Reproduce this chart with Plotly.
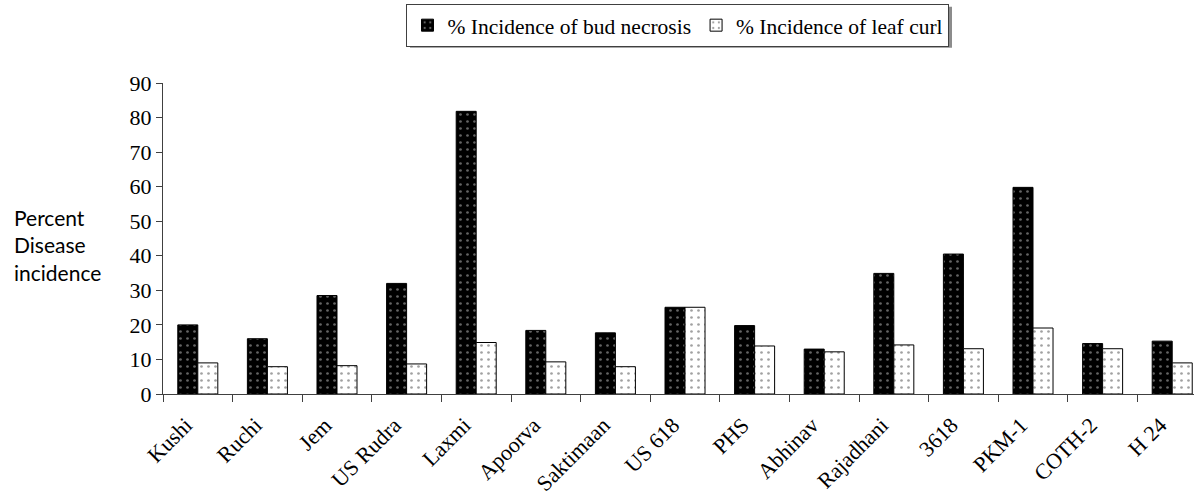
import plotly.graph_objects as go

varieties = ["Kushi", "Ruchi", "Jem", "US Rudra", "Laxmi", "Apoorva", "Saktimaan", "US 618",
             "PHS", "Abhinav", "Rajadhani", "3618", "PKM-1", "COTH-2", "H 24"]
bud_necrosis = [20.0, 16.0, 28.5, 32.0, 81.8, 18.4, 17.7, 25.1, 19.8, 13.0, 34.9, 40.5, 59.8, 14.6, 15.3]
leaf_curl = [9.0, 7.9, 8.2, 8.7, 14.9, 9.3, 7.9, 25.1, 13.9, 12.2, 14.2, 13.1, 19.1, 13.1, 9.0]
y_ticks = [0, 10, 20, 30, 40, 50, 60, 70, 80, 90]

SERIF = "Liberation Serif"
AXIS = "#404040"

fig = go.Figure()
fig.add_trace(go.Bar(
    x=varieties, y=bud_necrosis, name="% Incidence of bud necrosis",
    marker=dict(color="black", line=dict(color="black", width=1),
                pattern=dict(shape=".", bgcolor="black", fgcolor="#c8c8c8", size=7, solidity=0.12)),
))
fig.add_trace(go.Bar(
    x=varieties, y=leaf_curl, name="% Incidence of leaf curl",
    marker=dict(color="white", line=dict(color="black", width=1),
                pattern=dict(shape=".", bgcolor="white", fgcolor="#444444", size=7, solidity=0.12)),
))
# invisible carrier trace for the (slightly shifted) category label axis
fig.add_trace(go.Scatter(
    x=varieties, y=[0] * len(varieties), xaxis="x2", mode="markers",
    marker=dict(opacity=0), showlegend=False, hoverinfo="skip",
))

fig.update_layout(
    width=1194, height=497, autosize=False,
    margin=dict(l=163, r=0, t=83, b=103),
    paper_bgcolor="white", plot_bgcolor="white",
    barmode="group", bargap=0.425, bargroupgap=0,
    font=dict(family=SERIF, size=22, color="black"),
    showlegend=True,
    legend=dict(orientation="h", x=0.4995, xanchor="center", y=1.255, yanchor="top",
                bordercolor=AXIS, borderwidth=1, bgcolor="white",
                font=dict(family=SERIF, size=21.5, color="black"),
                itemwidth=30, tracegroupgap=0),
    xaxis=dict(
        type="category", range=[-0.5, 14.313], tickson="boundaries",
        showline=True, linecolor=AXIS, linewidth=1,
        ticks="outside", ticklen=7, tickcolor=AXIS,
        showticklabels=False, showgrid=False, zeroline=False,
    ),
    xaxis2=dict(
        type="category", overlaying="x", anchor="y", side="bottom",
        range=[-0.328, 14.485], showline=False, ticks="",
        tickangle=-45, ticklabelstandoff=13,
        tickfont=dict(family=SERIF, size=22, color="black"),
        showgrid=False, zeroline=False,
    ),
    yaxis=dict(
        range=[0, 90], tickmode="array", tickvals=y_ticks, ticktext=[str(v) for v in y_ticks],
        showline=True, linecolor=AXIS, linewidth=1,
        ticks="outside", ticklen=6, tickcolor=AXIS,
        tickfont=dict(family=SERIF, size=22, color="black"),
        showgrid=False, zeroline=False,
    ),
)

# legend drop shadow (right/bottom edge), placed just behind the legend box
def px_x(p):
    return (p - 163) / 1031

def px_y(p):
    return (394.3 - p) / 311

fig.add_shape(type="rect", xref="paper", yref="paper", layer="below",
              x0=px_x(410), x1=px_x(952), y0=px_y(48), y1=px_y(7),
              fillcolor="#8c8c8c", line=dict(width=0))

fig.add_annotation(
    text="Percent<br>Disease<br>incidence", xref="paper", yref="paper",
    x=-0.1465, y=0.48, xanchor="left", yanchor="middle", align="left", showarrow=False,
    font=dict(family="Lato", size=21, color="black"),
)

fig.write_html("out.html")
